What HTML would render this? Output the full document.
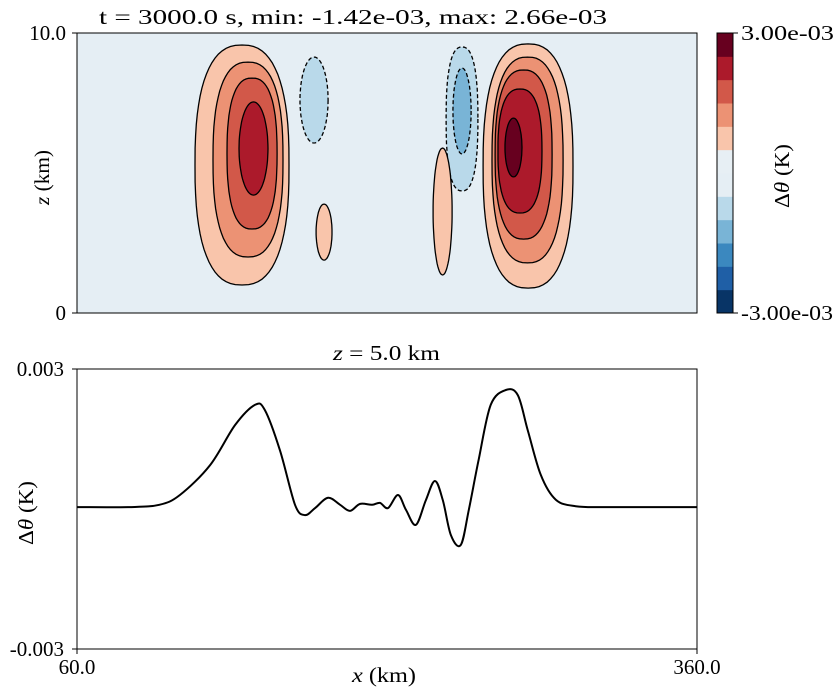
<!DOCTYPE html>
<html><head><meta charset="utf-8">
<style>
body{margin:0;background:#fff;}
svg{display:block;font-family:"Liberation Serif","DejaVu Serif",serif;}
</style></head>
<body>
<svg id="chart" width="836" height="697" viewBox="0 0 836 697" xmlns="http://www.w3.org/2000/svg">
<g id="topPanel"></g>
<g id="cbarPanel"></g>
<g id="botPanel"></g>
</svg>
<script>
// contour blobs (data units: km, km, K level)
const blobXmin=[117.1,125.8,132.6,138.4, 256.5,260.8,262.3,263.7,267.1, 167.9, 238.6,241.9, 175.7,232.3];
const blobXmax=[162.6,159.7,156.8,152.4, 300.0,295.2,289.9,285.0,275.3, 181.5, 254.0,250.7, 183.4,241.5];
const blobZmin=[1.0,2.0,3.0,4.21, 0.89,1.79,2.64,3.57,4.86, 6.07, 4.36,5.68, 1.89,1.36];
const blobZmax=[9.57,8.96,8.39,7.54, 9.61,9.14,8.68,8.0,6.96, 9.14, 9.5,8.75, 3.89,5.89];
const blobLevel=[0.0005,0.001,0.0015,0.002, 0.0005,0.001,0.0015,0.002,0.0025, -0.0005, -0.0005,-0.001, 0.0005,0.0005];
const cbarLevels=[-0.003,-0.0025,-0.002,-0.0015,-0.001,-0.0005,0,0.0005,0.001,0.0015,0.002,0.0025];
const cbarColors=["#083466","#1f5fa6","#3b88bf","#79b4d6","#b9d9ea","#e5eef4","#e7eff4","#f9c5ab","#ec9274","#d25849","#ac1a2b","#67001f"];
// line profile at z=5 km
const lineX=[60,85.3,99.8,109.8,124.4,136.5,146.1,150.9,158.2,165.5,170.3,175.2,181.5,187.3,192.1,197.0,202.8,206.6,210.5,215.3,219.2,224.0,228.8,233.2,237.0,240.9,245.7,249.6,254.4,260.2,267.5,273.3,278.1,284.4,291.7,301.3,315.8,360];
const lineY=[0.00004,0.00004,0.00009,0.0003,0.00094,0.0018,0.00223,0.00212,0.00126,0.00009,-0.00013,0.00002,0.00024,0.00009,-0.00004,0.00011,0.00009,0.00013,0.00002,0.0003,-0.00002,-0.00034,0.00019,0.0006,0.00019,-0.00056,-0.00077,-0.00002,0.00107,0.00223,0.00255,0.00244,0.00169,0.00073,0.0002,0.00006,0.00004,0.00004];

const NS="http://www.w3.org/2000/svg";
function mk(parent,tag,attrs,text){const e=document.createElementNS(NS,tag);for(const k in attrs)e.setAttribute(k,attrs[k]);if(text!==undefined)e.textContent=text;parent.appendChild(e);return e;}
const AX={l:77,r:697};
const xs=v=>AX.l+(v-60)/300*(AX.r-AX.l);
const zs=v=>313-v/10*280;
const ys=v=>509-v/0.003*140;
function colorFor(v){let i=0;for(let k=0;k<cbarLevels.length;k++){if(v>=cbarLevels[k]-1e-9)i=k;}return cbarColors[i];}
const FS=21;
const LA='spacingAndGlyphs';

const gTop=document.getElementById('topPanel');
let bg=mk(gTop,'rect',{x:77,y:33,width:620,height:280,fill:'#e5eef4'});


for(let i=0;i<blobLevel.length;i++){
  const x0=xs(blobXmin[i]),x1=xs(blobXmax[i]),y0=zs(blobZmax[i]),y1=zs(blobZmin[i]);
  const cx=(x0+x1)/2,cy=(y0+y1)/2,rx=(x1-x0)/2,ry=(y1-y0)/2;
  const p=(rx>15)?2.5:2.0;let d='';
  for(let k=0;k<=72;k++){const t=k/72*2*Math.PI;const c=Math.cos(t),s=Math.sin(t);
    const px=cx+rx*Math.sign(c)*Math.pow(Math.abs(c),2/p);
    const py=cy+ry*Math.sign(s)*Math.pow(Math.abs(s),2/p);
    d+=(k?'L':'M')+px.toFixed(1)+','+py.toFixed(1);}
  const neg=blobLevel[i]<0;
  const fillC=neg?colorFor(blobLevel[i]-0.0005):colorFor(blobLevel[i]);
  const e=mk(gTop,'path',{d:d+'Z',fill:fillC,stroke:'#000','stroke-width':1.3,'stroke-dasharray':neg?'4,2.5':'none'});
  
  
}
mk(gTop,'rect',{x:77,y:33,width:620,height:280,fill:'none',stroke:'#000','stroke-width':1});
mk(gTop,'line',{x1:72,y1:33,x2:77,y2:33,stroke:'#000'});
mk(gTop,'line',{x1:72,y1:313,x2:77,y2:313,stroke:'#000'});
let tx=mk(gTop,'text',{x:66,y:40,'font-size':FS,'text-anchor':'end'},'10.0');


tx=mk(gTop,'text',{x:66,y:320,'font-size':FS,'text-anchor':'end'},'0');


tx=mk(gTop,'text',{x:99,y:24,'font-size':FS,textLength:508,lengthAdjust:LA},'t = 3000.0 s, min: -1.42e-03, max: 2.66e-03');


tx=mk(gTop,'text',{x:49,y:205,'font-size':FS,textLength:55,lengthAdjust:LA,transform:'rotate(-90 49 205)'});
tx.innerHTML='<tspan font-style="italic">z</tspan> (km)';



const gCb=document.getElementById('cbarPanel');
const ch=280/cbarColors.length;
for(let i=0;i<cbarColors.length;i++){const r=mk(gCb,'rect',{x:717,y:313-(i+1)*ch,width:16,height:ch+0.5,fill:cbarColors[i]});

}
mk(gCb,'rect',{x:717,y:33,width:16,height:280,fill:'none',stroke:'#000','stroke-width':1});
mk(gCb,'line',{x1:733,y1:33,x2:738,y2:33,stroke:'#000'});mk(gCb,'line',{x1:733,y1:313,x2:738,y2:313,stroke:'#000'});
tx=mk(gCb,'text',{x:741,y:40,'font-size':FS,textLength:93,lengthAdjust:LA},'3.00e-03');


tx=mk(gCb,'text',{x:741,y:320,'font-size':FS,textLength:92,lengthAdjust:LA},'-3.00e-03');


tx=mk(gCb,'text',{x:789,y:208,'font-size':FS,textLength:64,lengthAdjust:LA,transform:'rotate(-90 789 208)'});
tx.innerHTML='Δ<tspan font-style="italic">θ</tspan> (K)';



const gBot=document.getElementById('botPanel');
let pts=lineX.map((x,i)=>[xs(x),ys(lineY[i])]);let d='M'+pts[0][0]+','+pts[0][1];
for(let i=0;i<pts.length-1;i++){const p0=pts[Math.max(0,i-1)],p1=pts[i],p2=pts[i+1],p3=pts[Math.min(pts.length-1,i+2)];
 d+='C'+(p1[0]+(p2[0]-p0[0])/6).toFixed(1)+','+(p1[1]+(p2[1]-p0[1])/6).toFixed(1)+' '+(p2[0]-(p3[0]-p1[0])/6).toFixed(1)+','+(p2[1]-(p3[1]-p1[1])/6).toFixed(1)+' '+p2[0].toFixed(1)+','+p2[1].toFixed(1);}
const ln=mk(gBot,'path',{d:d,fill:'none',stroke:'#000','stroke-width':2});


mk(gBot,'rect',{x:77,y:369,width:620,height:280,fill:'none',stroke:'#000','stroke-width':1});
[[369,'0.003'],[649,'-0.003']].forEach(([y,s])=>{mk(gBot,'line',{x1:72,y1:y,x2:77,y2:y,stroke:'#000'});const e=mk(gBot,'text',{x:64,y:y+7,'font-size':FS,'text-anchor':'end'},s);

});
[[77,'60.0'],[697,'360.0']].forEach(([x,s])=>{mk(gBot,'line',{x1:x,y1:649,x2:x,y2:654,stroke:'#000'});const e=mk(gBot,'text',{x:x,y:674,'font-size':FS,'text-anchor':'middle'},s);

});
tx=mk(gBot,'text',{x:333,y:360,'font-size':FS,textLength:107,lengthAdjust:LA});
tx.innerHTML='<tspan font-style="italic">z</tspan> = 5.0 km';


tx=mk(gBot,'text',{x:352,y:682,'font-size':FS,textLength:64,lengthAdjust:LA});
tx.innerHTML='<tspan font-style="italic">x</tspan> (km)';


tx=mk(gBot,'text',{x:33,y:545,'font-size':FS,textLength:64,lengthAdjust:LA,transform:'rotate(-90 33 545)'});
tx.innerHTML='Δ<tspan font-style="italic">θ</tspan> (K)';


</script>
</body></html>
